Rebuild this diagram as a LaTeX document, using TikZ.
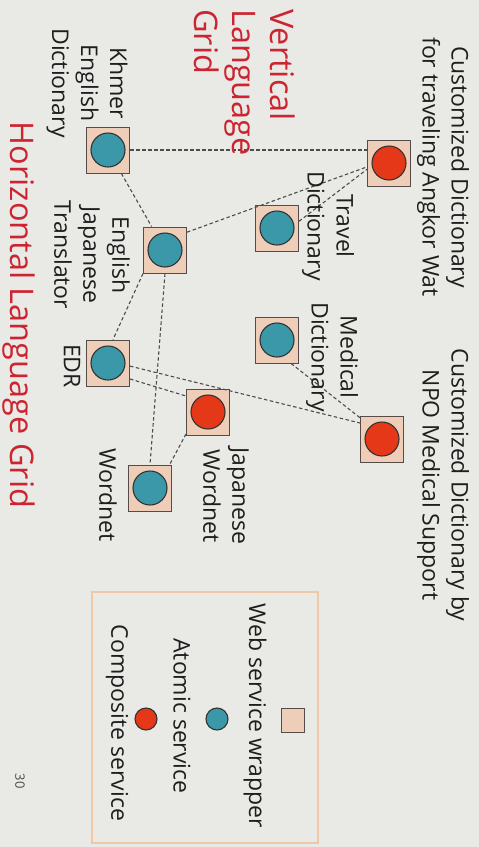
\documentclass[tikz,border=0pt]{standalone}
\usepackage{fontspec}
\setmainfont{Open Sans}
\usepackage{xcolor}
\usetikzlibrary{math}
\definecolor{mybg}{RGB}{233,233,229}
\definecolor{mypeach}{RGB}{238,206,184}
\definecolor{myedge}{RGB}{85,75,72}
\definecolor{myteal}{RGB}{58,152,168}
\definecolor{myred}{RGB}{228,56,24}
\definecolor{mytitle}{RGB}{204,36,48}
\definecolor{myframe}{RGB}{240,200,165}
\definecolor{mytext}{RGB}{30,30,30}

\begin{document}
\begin{tikzpicture}[x=1pt,y=-1pt,
  wrapper/.style={draw=myedge, fill=mypeach, line width=1, minimum width=43pt, minimum height=46pt, inner sep=0},
  atomic/.style={circle, draw=black!80, fill=myteal, line width=1.1, minimum size=34pt, inner sep=0},
  composite/.style={atomic, fill=myred},
  link/.style={dash pattern=on 3.5pt off 2.5pt, line width=1.1, black!70},
  svclabel/.style={rotate=-90, align=center, inner sep=0, text=mytext, font=\fontsize{23}{29}\selectfont},
  gridtitle/.style={svclabel, text=mytitle, font=\fontsize{32.5}{38}\selectfont}
]
\tikzmath{
\W=479;
\H=847;
}
\fill[mybg] (0,0) rectangle (\W,\H);

\node[wrapper] (angkor) at (389,163) {};
\node[composite] (angkor-c) at (angkor) {};
\node[wrapper] (travel) at (277,228) {};
\node[atomic] (travel-c) at (travel) {};
\node[wrapper] (khmer) at (108,150) {};
\node[atomic] (khmer-c) at (khmer) {};
\node[wrapper] (engjap) at (165,250) {};
\node[atomic] (engjap-c) at (engjap) {};
\node[wrapper] (medical) at (277,340) {};
\node[atomic] (medical-c) at (medical) {};
\node[wrapper] (edr) at (108,363) {};
\node[atomic] (edr-c) at (edr) {};
\node[wrapper] (japwn) at (208,412) {};
\node[composite] (japwn-c) at (japwn) {};
\node[wrapper] (wordnet) at (150,488) {};
\node[atomic] (wordnet-c) at (wordnet) {};
\node[wrapper] (npo) at (382,439) {};
\node[composite] (npo-c) at (npo) {};

\draw[link] (khmer.east) -- (khmer.east -| angkor.west);
\draw[link] (khmer) -- (engjap);
\draw[link] (engjap.39) -- (angkor.190);
\draw[link] (travel.17) -- (angkor.196);
\draw[link] (engjap.south west) -- (edr.78);
\draw[link] (engjap.south) -- (wordnet.north);
\draw[link] (edr.-8) -- (npo.144);
\draw[link] (edr.-36) -- (japwn.144);
\draw[link] (japwn.225) -- (wordnet.50);
\draw[link] (medical.-59) -- (npo.136);

\node[svclabel] (angkor-t) at (443,167) {Customized Dictionary\\for traveling Angkor Wat};
\node[svclabel] (npo-t) at (443,485) {Customized Dictionary by\\NPO Medical Support};
\node[svclabel] (travel-t) at (328,226) {Travel\\Dictionary};
\node[svclabel] (medical-t) at (332,357) {Medical\\Dictionary};
\node[svclabel] (khmer-t) at (87,83) {Khmer\\English\\Dictionary};
\node[svclabel] (engjap-t) at (92,255) {English\\Japanese\\Translator};
\node[svclabel] (edr-t) at (72,366) {EDR};
\node[svclabel] (japwn-t) at (226,496) {Japanese\\Wordnet};
\node[svclabel] (wordnet-t) at (108,495) {Wordnet};

\node[gridtitle, anchor=west, align=left] (vgrid) at (245,9) {Vertical\\Language\\Grid};
\node[gridtitle] (hgrid) at (19,315) {Horizontal Language Grid};

\draw[myframe, line width=1.2] (92,592) rectangle (318,843);
\node[wrapper, minimum width=23pt, minimum height=24pt] (key-wrapper) at (293,720) {};
\node[atomic, minimum size=22pt] (key-atomic) at (217,719) {};
\node[composite, minimum size=22pt] (key-composite) at (146,719) {};
\node[svclabel] (key-wrapper-t) at (255,716) {Web service wrapper};
\node[svclabel] (key-atomic-t) at (182,716) {Atomic service};
\node[svclabel] (key-composite-t) at (117,723) {Composite service};

\node[rotate=-90, inner sep=0, text=black!70, font=\fontsize{13}{15}\selectfont] (pagenum) at (20,781) {30};
\end{tikzpicture}
\end{document}
